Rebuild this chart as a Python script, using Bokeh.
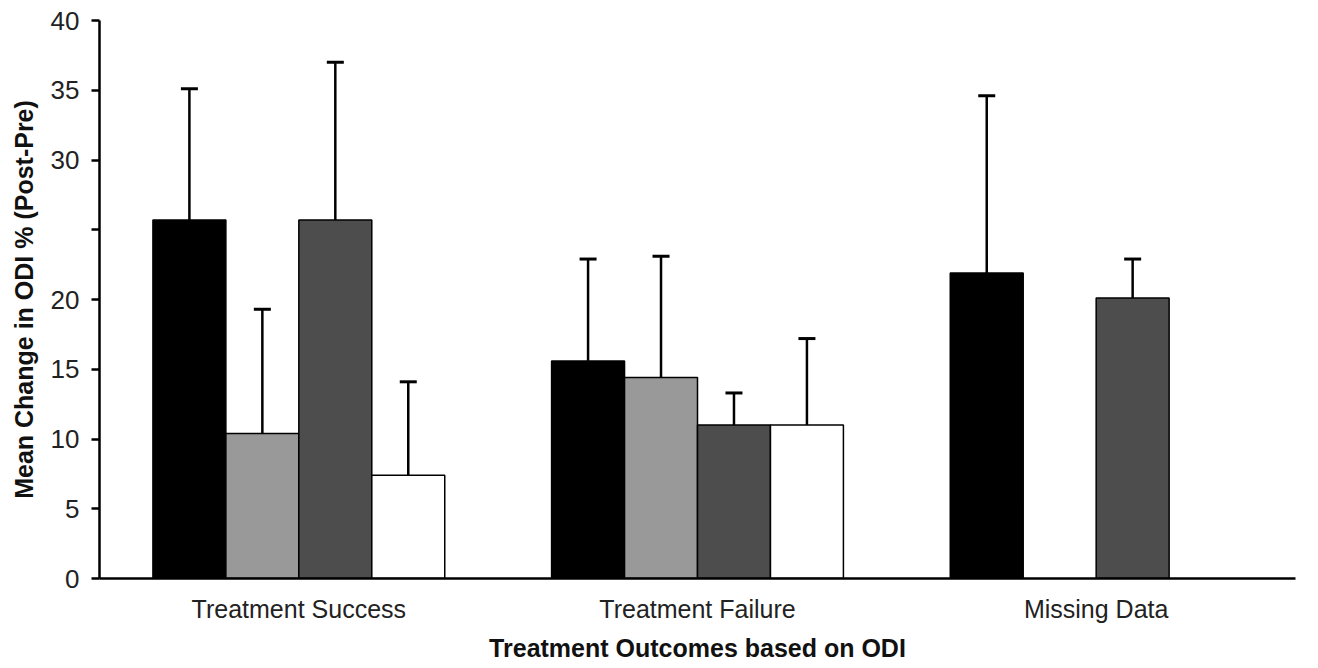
import numpy as np
from bokeh.plotting import figure
from bokeh.models import ColumnDataSource, FixedTicker, Whisker, TeeHead, Range1d
from bokeh.embed import file_html
from bokeh.resources import INLINE

categories = ["Treatment Success", "Treatment Failure", "Missing Data"]
series_names = ["Group 1", "Group 2", "Group 3", "Group 4"]
series_colors = ["#000000", "#999999", "#4d4d4d", "#ffffff"]
means = [
    [25.7, 10.4, 25.7, 7.4],
    [15.6, 14.4, 11.0, 11.0],
    [21.9, np.nan, 20.1, np.nan],
]
sds = [
    [9.4, 8.9, 11.3, 6.7],
    [7.3, 8.7, 2.3, 6.2],
    [12.7, np.nan, 2.8, np.nan],
]
y_ticks = [0, 5, 10, 15, 20, 25, 30, 35, 40]
y_tick_labels = ["0", "5", "10", "15", "20", "", "30", "35", "40"]

FONT = "Liberation Sans"
bar_w = 0.183

p = figure(width=1308, height=666, output_backend="svg", toolbar_location=None,
           x_range=Range1d(0, len(categories)), y_range=Range1d(0, 40),
           min_border_left=99, min_border_right=13, min_border_top=20, min_border_bottom=88)
p.outline_line_color = None
p.grid.visible = False
p.background_fill_color = "white"

centers = np.arange(len(categories)) + 0.5
for j, name in enumerate(series_names):
    xs = centers + (j - 1.5) * bar_w
    tops = np.array([m[j] for m in means], dtype=float)
    errs = np.array([s[j] for s in sds], dtype=float)
    ok = ~np.isnan(tops)
    src = ColumnDataSource(dict(x=xs[ok], top=tops[ok], upper=(tops + errs)[ok]))
    p.vbar(x="x", top="top", bottom=0, width=bar_w, source=src,
           fill_color=series_colors[j], line_color="black", line_width=1.5)
    w = Whisker(source=src, base="x", lower="top", upper="upper", dimension="height",
                line_color="black", line_width=2.5,
                upper_head=TeeHead(size=17, line_color="black", line_width=3),
                lower_head=None, level="overlay")
    p.add_layout(w)

# Y axis
ya = p.yaxis[0]
ya.ticker = FixedTicker(ticks=y_ticks)
ya.major_label_overrides = {t: l for t, l in zip(y_ticks, y_tick_labels)}
ya.axis_label = "Mean Change in ODI % (Post-Pre)"
ya.axis_label_text_font = FONT
ya.axis_label_text_font_style = "bold"
ya.axis_label_text_font_size = "25px"
ya.axis_label_text_color = "#111111"
ya.axis_label_standoff = 10
ya.major_label_text_font = FONT
ya.major_label_text_font_size = "26px"
ya.major_label_text_color = "#222222"
ya.major_label_standoff = 12
ya.major_tick_out = 8
ya.major_tick_in = 0
ya.minor_tick_out = 0
ya.minor_tick_in = 0
ya.axis_line_width = 2.5
ya.major_tick_line_width = 2.5

# X axis
xa = p.xaxis[0]
xa.ticker = FixedTicker(ticks=list(centers))
xa.major_label_overrides = {float(c): cat for c, cat in zip(centers, categories)}
xa.major_label_text_font = FONT
xa.major_label_text_font_size = "25px"
xa.major_label_text_color = "#222222"
xa.major_label_standoff = 16
xa.major_tick_out = 0
xa.major_tick_in = 0
xa.minor_tick_out = 0
xa.minor_tick_in = 0
xa.axis_line_width = 2.5
xa.axis_label = "Treatment Outcomes based on ODI"
xa.axis_label_text_font = FONT
xa.axis_label_text_font_style = "bold"
xa.axis_label_text_font_size = "25px"
xa.axis_label_text_color = "#111111"
xa.axis_label_standoff = 8

open("out.html", "w").write(file_html(p, INLINE))
